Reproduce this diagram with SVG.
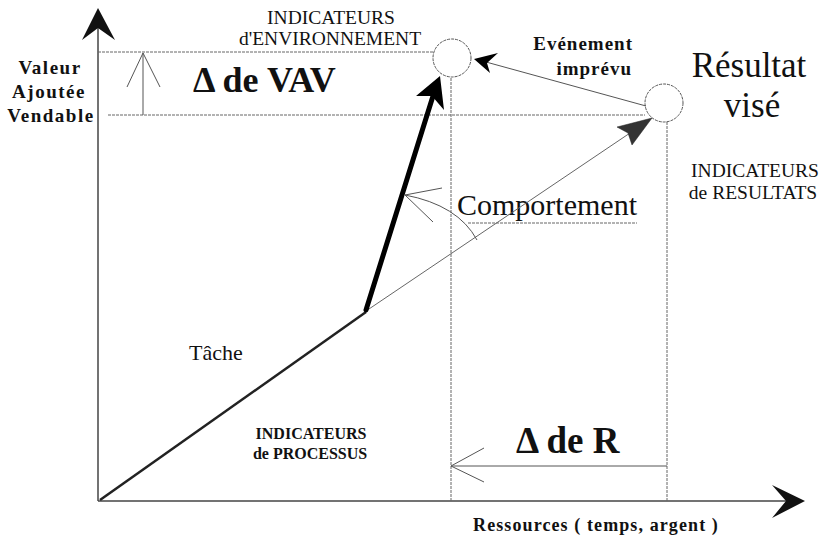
<svg xmlns="http://www.w3.org/2000/svg" width="827" height="541" viewBox="0 0 827 541">
<style>
.guide{stroke:#666;stroke-width:1;fill:none;stroke-dasharray:3 1}
.axis{stroke:#444;stroke-width:1.5;fill:none}
.thin{stroke:#555;stroke-width:1;fill:none}
.node{fill:#fff;stroke:#555;stroke-width:1;stroke-dasharray:3 1}
text{font-family:'Liberation Serif','DejaVu Serif',serif;fill:#111}
.b{font-weight:bold}
</style>
<rect width="827" height="541" fill="#fff"/>
<g id="axes">
<line class="axis" x1="98" y1="501" x2="98" y2="28"/>
<polygon points="98,8 115,40 98,28 82,40" fill="#111"/>
<line class="axis" x1="98" y1="501" x2="788" y2="501"/>
<polygon points="805,501 772,485 786,501 772,518" fill="#111"/>
</g>
<g id="guides">
<line class="guide" x1="98" y1="52" x2="433" y2="52"/>
<line class="guide" x1="108" y1="115" x2="645" y2="115"/>
<line class="guide" x1="451" y1="78" x2="451" y2="501"/>
<line class="guide" x1="667" y1="122" x2="667" y2="501"/>
<line class="guide" x1="468" y1="223" x2="637" y2="223"/>
</g>
<g id="node-environnement">
<circle class="node" cx="452" cy="58" r="19"/>
<text font-family="Liberation Serif, serif" x="331" y="24" font-size="19.5" text-anchor="middle">INDICATEURS</text>
<text font-family="Liberation Serif, serif" x="330" y="45" font-size="19.5" text-anchor="middle">d'ENVIRONNEMENT</text>
</g>
<g id="node-resultat">
<circle class="node" cx="664" cy="103" r="19"/>
<text font-family="Liberation Serif, serif" x="749" y="77" font-size="35" text-anchor="middle">Résultat</text>
<text font-family="Liberation Serif, serif" x="752" y="117" font-size="35" text-anchor="middle">visé</text>
<text font-family="Liberation Serif, serif" x="755" y="177" font-size="19.5" text-anchor="middle">INDICATEURS</text>
<text font-family="Liberation Serif, serif" x="753" y="199" font-size="19.5" text-anchor="middle">de RESULTATS</text>
</g>
<g id="label-vav">
<text class="b" font-family="Liberation Serif, serif" x="50" y="74" font-size="19" letter-spacing="1.5" text-anchor="middle">Valeur</text>
<text class="b" font-family="Liberation Serif, serif" x="49" y="98" font-size="19" letter-spacing="1.5" text-anchor="middle">Ajoutée</text>
<text class="b" font-family="Liberation Serif, serif" x="51" y="122" font-size="19" letter-spacing="1.5" text-anchor="middle">Vendable</text>
<text class="b" font-family="Liberation Serif, serif" x="193" y="92" font-size="36">Δ de VAV</text>
</g>
<g id="label-processus">
<text font-family="Liberation Serif, serif" x="189" y="360" font-size="22">Tâche</text>
<text class="b" font-family="Liberation Serif, serif" x="311" y="439" font-size="16" text-anchor="middle">INDICATEURS</text>
<text class="b" font-family="Liberation Serif, serif" x="310" y="459" font-size="16" text-anchor="middle">de PROCESSUS</text>
</g>
<g id="label-r">
<text class="b" font-family="Liberation Serif, serif" x="516" y="453" font-size="37">Δ de R</text>
<text class="b" font-family="Liberation Serif, serif" x="596" y="531" font-size="18" letter-spacing="1.1" text-anchor="middle">Ressources ( temps, argent )</text>
</g>
<g id="label-comportement">
<text font-family="Liberation Serif, serif" x="457" y="215" font-size="30">Comportement</text>
<text class="b" font-family="Liberation Serif, serif" x="633" y="50" font-size="19" letter-spacing="1" text-anchor="end">Evénement</text>
<text class="b" font-family="Liberation Serif, serif" x="632" y="75" font-size="19" letter-spacing="1" text-anchor="end">imprévu</text>
</g>
<g id="connectors">
<line x1="100" y1="500" x2="366" y2="312" stroke="#222" stroke-width="2.5"/>
<line x1="366" y1="311" x2="630" y2="133" stroke="#666" stroke-width="1"/>
<polygon points="652,118 617,127 628,133 632,145" fill="#333" stroke="#222" stroke-width="0.5"/>
<line x1="366" y1="310" x2="433" y2="96" stroke="#000" stroke-width="5" stroke-linecap="round"/>
<polygon points="440,76 444,110 432,96 416,96" fill="#000"/>
<line x1="646" y1="106" x2="486" y2="62" stroke="#555" stroke-width="1"/>
<polygon points="474,59 498,53 487,63 490,73" fill="#000"/>
<path class="thin" d="M477,240 Q458,205 405,195"/>
<polyline class="thin" points="442,188 405,195 433,222"/>
<line class="thin" x1="143" y1="115" x2="143" y2="53"/>
<polyline class="thin" points="127,87 143,53 160,87"/>
<line class="thin" x1="667" y1="466" x2="451" y2="466" stroke="#333"/>
<polyline class="thin" points="484,448 451,466 484,482"/>
</g>
</svg>
